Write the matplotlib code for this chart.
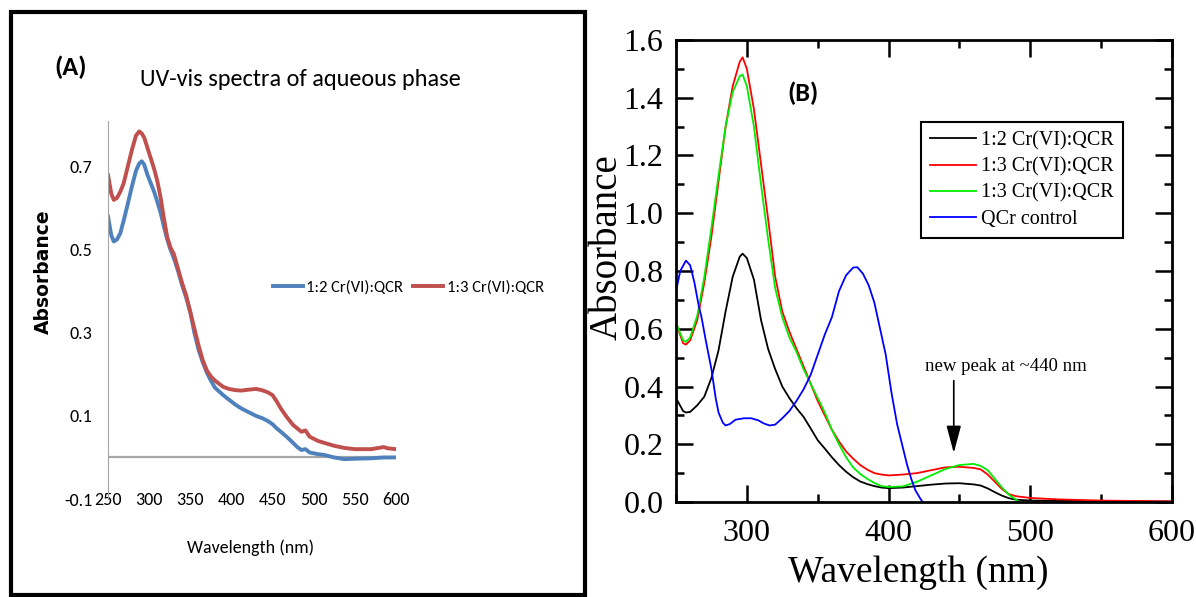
import matplotlib
matplotlib.use("Agg")
import matplotlib.pyplot as plt
from matplotlib import font_manager as fm
from matplotlib.patches import Rectangle
from matplotlib.ticker import FormatStrFormatter, MultipleLocator

# ---- panel A data (aqueous phase, Excel style) ----
wl_a = [250, 254, 257, 261, 265, 269, 274, 279, 284, 288, 291, 294, 298, 302,
        306, 310, 314, 318, 322, 326, 330, 335, 340, 345, 350, 355, 360, 365,
        370, 375, 380, 390, 397, 405, 412, 420, 430, 437, 444, 450, 455, 460,
        467, 475, 480, 485, 490, 495, 505, 513, 525, 537, 550, 570, 585, 590, 600]
a_12 = [0.58, 0.535, 0.52, 0.525, 0.54, 0.57, 0.61, 0.652, 0.69, 0.708, 0.713,
        0.705, 0.68, 0.66, 0.64, 0.615, 0.589, 0.555, 0.525, 0.50, 0.48, 0.45,
        0.415, 0.385, 0.35, 0.30, 0.26, 0.23, 0.205, 0.185, 0.168, 0.15, 0.139,
        0.127, 0.118, 0.11, 0.10, 0.095, 0.088, 0.08, 0.07, 0.062, 0.05, 0.035,
        0.025, 0.018, 0.02, 0.012, 0.008, 0.006, 0.0, -0.004, -0.003, -0.002,
        0.0, 0.0, 0.0]
a_13 = [0.68, 0.635, 0.62, 0.625, 0.64, 0.66, 0.70, 0.74, 0.775, 0.785, 0.78,
        0.77, 0.745, 0.72, 0.695, 0.665, 0.625, 0.575, 0.53, 0.505, 0.49,
        0.455, 0.42, 0.39, 0.35, 0.31, 0.27, 0.235, 0.21, 0.195, 0.185, 0.17,
        0.165, 0.162, 0.161, 0.163, 0.165, 0.162, 0.157, 0.15, 0.135, 0.118,
        0.098, 0.078, 0.07, 0.062, 0.065, 0.05, 0.04, 0.035, 0.028, 0.023,
        0.02, 0.02, 0.025, 0.022, 0.02]
ticks_a_x = [250, 300, 350, 400, 450, 500, 550, 600]
ticks_a_y = [-0.1, 0.1, 0.3, 0.5, 0.7]
labels_a = ["1:2 Cr(VI):QCR", "1:3 Cr(VI):QCR"]

# ---- panel B data ----
wl_b = [250, 255, 257, 260, 265, 270, 275, 280, 285, 290, 295, 297, 300, 305,
        310, 315, 320, 325, 330, 335, 340, 345, 350, 355, 360, 365, 370, 375,
        380, 385, 390, 395, 400, 410, 420, 430, 440, 450, 460, 465, 470, 475,
        480, 485, 490, 500, 520, 550, 600]
b_12 = [0.36, 0.315, 0.31, 0.312, 0.335, 0.365, 0.43, 0.525, 0.66, 0.78, 0.85,
        0.86, 0.845, 0.77, 0.63, 0.53, 0.46, 0.40, 0.36, 0.325, 0.295, 0.255,
        0.214, 0.185, 0.155, 0.128, 0.105, 0.086, 0.071, 0.062, 0.055, 0.05,
        0.048, 0.05, 0.055, 0.06, 0.064, 0.065, 0.061, 0.057, 0.047, 0.034,
        0.022, 0.013, 0.008, 0.005, 0.004, 0.003, 0.002]
b_13 = [0.62, 0.55, 0.545, 0.56, 0.63, 0.76, 0.92, 1.11, 1.30, 1.44, 1.525,
        1.54, 1.50, 1.36, 1.17, 0.98, 0.78, 0.66, 0.59, 0.53, 0.47, 0.41, 0.35,
        0.30, 0.25, 0.21, 0.175, 0.15, 0.128, 0.112, 0.10, 0.095, 0.092, 0.095,
        0.10, 0.11, 0.12, 0.122, 0.118, 0.113, 0.095, 0.07, 0.045, 0.027,
        0.02, 0.014, 0.009, 0.005, 0.002]
wl_g = wl_b[:45] + [492]
b_13g = [0.62, 0.56, 0.555, 0.57, 0.645, 0.78, 0.95, 1.13, 1.30, 1.42, 1.475,
         1.48, 1.44, 1.30, 1.10, 0.91, 0.74, 0.64, 0.57, 0.52, 0.46, 0.41,
         0.36, 0.31, 0.25, 0.20, 0.155, 0.12, 0.097, 0.08, 0.066, 0.055, 0.052,
         0.054, 0.07, 0.092, 0.114, 0.128, 0.132, 0.125, 0.11, 0.08, 0.05,
         0.025, 0.008, 0.0]
wl_ctrl = [250, 253, 257, 260, 263, 266, 268, 271, 275, 278, 280, 283, 285,
           288, 292, 298, 303, 308, 312, 316, 320, 325, 330, 335, 340, 345,
           350, 355, 360, 365, 370, 375, 378, 382, 386, 390, 394, 398, 402,
           406, 410, 413, 416, 419, 422, 424]
b_ctrl = [0.73, 0.80, 0.836, 0.82, 0.76, 0.68, 0.64, 0.56, 0.46, 0.36, 0.31,
          0.275, 0.265, 0.27, 0.285, 0.29, 0.29, 0.283, 0.272, 0.265, 0.268,
          0.29, 0.315, 0.35, 0.39, 0.44, 0.51, 0.58, 0.64, 0.73, 0.785, 0.812,
          0.813, 0.79, 0.75, 0.69, 0.60, 0.51, 0.38, 0.27, 0.19, 0.13, 0.08,
          0.04, 0.015, 0.0]
labels_b = ["1:2 Cr(VI):QCR", "1:3 Cr(VI):QCR", "1:3 Cr(VI):QCR", "QCr control"]

W, H = 1196, 597

# Calibri-like face for the Excel panel, Times-like for panel B
installed = {f.name for f in fm.fontManager.ttflist}


def pick(cands):
    return [c for c in cands if c in installed] + ["DejaVu Sans"]


calibri = pick(["Carlito", "Liberation Sans Narrow", "Roboto Condensed",
                "Archivo Narrow", "Lato"])
serif = pick(["Liberation Serif", "Tinos"])

fig = plt.figure(figsize=(W / 100, H / 100), dpi=100)
fig.patch.set_facecolor("white")


def fx(px):
    return px / W


def fy(py):
    return 1 - py / H


# ================= panel A =================
ax_a = fig.add_axes([fx(108), fy(499), fx(396) - fx(108), fy(121) - fy(499)])
ax_a.plot(wl_a, a_12, color="#4F81BD", lw=2.8, label=labels_a[0])
ax_a.plot(wl_a, a_13, color="#C0504D", lw=2.8, label=labels_a[1])
ax_a.set_xlim(250, 600)
ax_a.set_ylim(-0.1, 0.81)
ax_a.axhline(0, color="#a6a6a6", lw=1.6, zorder=0)
for s in ["top", "right", "bottom"]:
    ax_a.spines[s].set_visible(False)
ax_a.spines["left"].set_color("#a6a6a6")
ax_a.spines["left"].set_linewidth(0.8)
ax_a.set_xticks(ticks_a_x)
ax_a.set_yticks(ticks_a_y)
ax_a.set_yticklabels([f"{v:g}" for v in ticks_a_y])
ax_a.tick_params(axis="y", length=0, pad=11, labelsize=13)
ax_a.tick_params(axis="x", length=0, pad=-5, labelsize=13)
for lab in ax_a.get_xticklabels() + ax_a.get_yticklabels():
    lab.set_family(calibri)
ax_a.patch.set_alpha(0)

fig.text(fx(300), fy(80), "UV-vis spectra of aqueous phase", ha="center",
         va="center", fontsize=17.5, family=calibri)
fig.text(fx(71), fy(67), "(A)", ha="center", va="center", fontsize=19,
         fontweight="bold", family=calibri)
fig.text(fx(43), fy(272), "Absorbance", ha="center", va="center", rotation=90,
         fontsize=13.5, fontweight="bold", family=["DejaVu Sans"])
fig.text(fx(251), fy(548), "Wavelength (nm)", ha="center", va="center",
         fontsize=13, family=calibri)
ax_a.legend(loc="center left", bbox_to_anchor=(fx(273), fy(287)),
            bbox_transform=fig.transFigure, ncol=2, frameon=False,
            handlelength=1.8, handletextpad=0.2, columnspacing=0.6,
            borderpad=0, borderaxespad=0,
            prop={"family": calibri, "size": 12})

fig.add_artist(Rectangle((fx(11), fy(595)), fx(585) - fx(11), fy(12) - fy(595),
                         transform=fig.transFigure, fill=False, lw=3,
                         edgecolor="black"))

# ================= panel B =================
ax_b = fig.add_axes([fx(676), fy(502), fx(1172) - fx(676), fy(40) - fy(502)])
ax_b.plot(wl_b, b_12, color="black", lw=1.3, label=labels_b[0])
ax_b.plot(wl_b, b_13, color="#ff0000", lw=1.3, label=labels_b[1])
ax_b.plot(wl_g, b_13g, color="#00ee00", lw=1.3, label=labels_b[2])
ax_b.plot(wl_ctrl, b_ctrl, color="#0000ff", lw=1.3, label=labels_b[3])
ax_b.set_xlim(250, 600)
ax_b.set_ylim(0, 1.6)
ax_b.xaxis.set_major_locator(MultipleLocator(100))
ax_b.xaxis.set_minor_locator(MultipleLocator(50))
ax_b.yaxis.set_major_locator(MultipleLocator(0.2))
ax_b.yaxis.set_minor_locator(MultipleLocator(0.1))
ax_b.yaxis.set_major_formatter(FormatStrFormatter("%.1f"))
for s in ax_b.spines.values():
    s.set_linewidth(2)
ax_b.tick_params(which="both", direction="in", top=True, right=True, width=1.8)
ax_b.tick_params(which="major", length=12)
ax_b.tick_params(which="minor", length=6)
ax_b.tick_params(axis="x", pad=12, labelsize=23)
ax_b.tick_params(axis="y", pad=9, labelsize=23)
for lab in ax_b.get_xticklabels() + ax_b.get_yticklabels():
    lab.set_family(serif)

fig.text(fx(918), fy(573), "Wavelength (nm)", ha="center", va="center",
         fontsize=27, family=serif)
fig.text(fx(607), fy(247), "Absorbance", ha="center", va="center",
         rotation=90, fontsize=28, family=serif)
fig.text(fx(803), fy(93), "(B)", ha="center", va="center", fontsize=19,
         fontweight="bold", family=calibri)

leg = ax_b.legend(loc="upper left", bbox_to_anchor=(fx(921), fy(122)),
                  bbox_transform=fig.transFigure, fancybox=False,
                  edgecolor="black", framealpha=1, borderaxespad=0,
                  handlelength=2.3, handletextpad=0.25, labelspacing=0.35,
                  borderpad=0.45, prop={"family": serif, "size": 14.5})
leg.get_frame().set_linewidth(1.5)

ax_b.annotate("", xy=(446, 0.16), xytext=(446, 0.43),
              arrowprops=dict(arrowstyle="-|>,head_length=0.6,head_width=0.16",
                              mutation_scale=28, color="black", lw=1.2))
ax_b.text(483, 0.47, "new peak at ~440 nm", ha="center", va="center",
          fontsize=13.5, family=serif)

fig.savefig("out.png", dpi=100)
